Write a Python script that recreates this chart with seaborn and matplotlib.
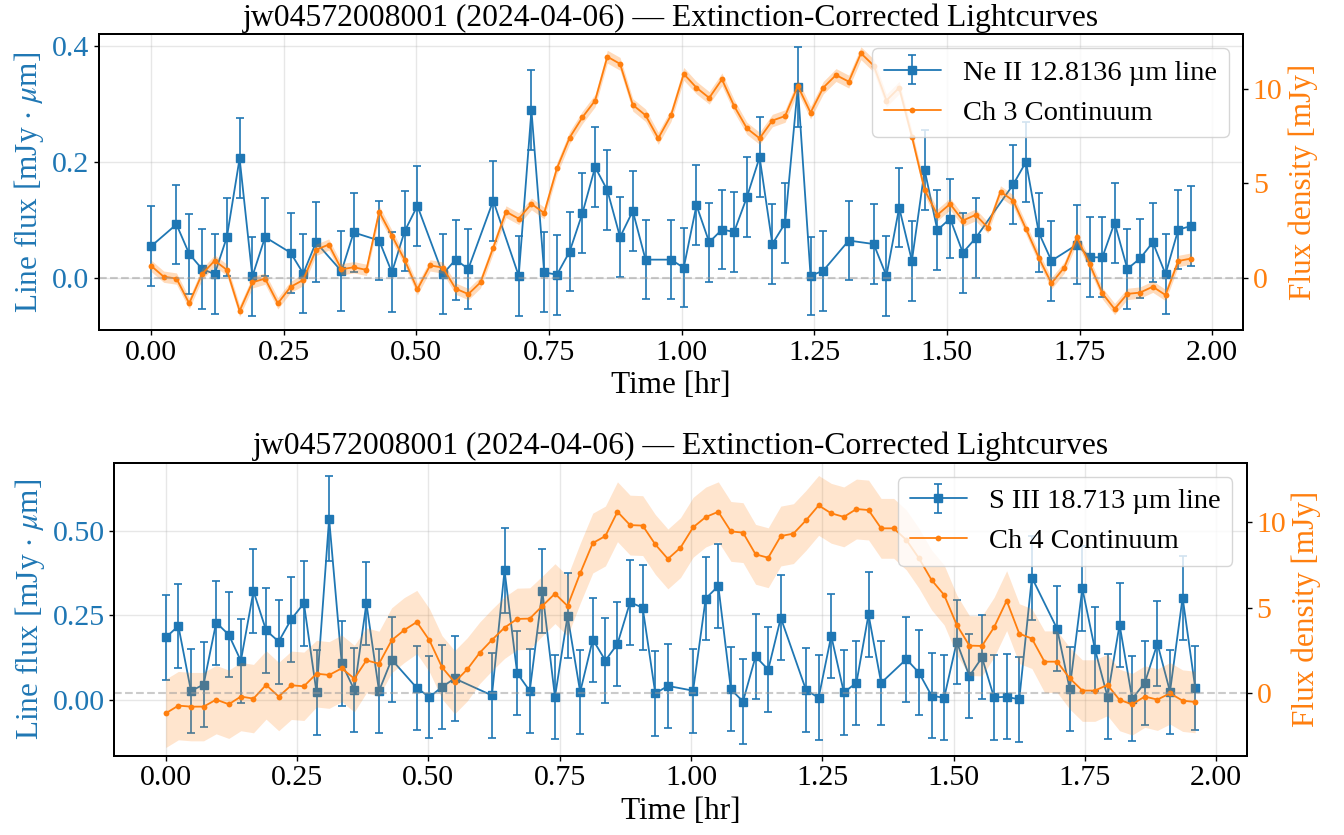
import matplotlib
matplotlib.use("Agg")
import matplotlib.pyplot as plt
from matplotlib.ticker import MultipleLocator, FormatStrFormatter
import seaborn as sns

# ---------------- data ----------------
time_hr = [0.000, 0.024, 0.048, 0.072, 0.096, 0.120, 0.143, 0.167, 0.191, 0.215,
           0.239, 0.263, 0.287, 0.311, 0.335, 0.359, 0.382, 0.406, 0.430, 0.454,
           0.478, 0.502, 0.526, 0.550, 0.574, 0.598, 0.621, 0.645, 0.669, 0.693,
           0.717, 0.741, 0.765, 0.789, 0.813, 0.837, 0.860, 0.884, 0.908, 0.932,
           0.956, 0.980, 1.004, 1.028, 1.052, 1.076, 1.099, 1.123, 1.147, 1.171,
           1.195, 1.219, 1.243, 1.267, 1.291, 1.315, 1.338, 1.362, 1.386, 1.410,
           1.434, 1.458, 1.482, 1.506, 1.530, 1.554, 1.577, 1.601, 1.625, 1.649,
           1.673, 1.697, 1.721, 1.745, 1.769, 1.793, 1.816, 1.840, 1.864, 1.888,
           1.912, 1.936, 1.960]

# Panel 1: Ne II line (indices into time_hr where the line was measured)
ne_idx = [0, 2, 3, 4, 5, 6, 7, 8, 9, 11, 12, 13, 15, 16, 18, 19, 20, 21, 23, 24,
          25, 27, 29, 30, 31, 32, 33, 34, 35, 36, 37, 38, 39, 41, 42, 43, 44, 45, 46, 47,
          48, 49, 50, 51, 52, 53, 55, 57, 58, 59, 60, 61, 62, 63, 64, 65, 68, 69, 70, 71,
          73, 74, 75, 76, 77, 78, 79, 80, 81, 82]
ne_flux = [0.054, 0.092, 0.041, 0.015, 0.006, 0.070, 0.206, 0.002, 0.070, 0.043,
           0.007, 0.061, 0.011, 0.078, 0.064, 0.009, 0.080, 0.124, 0.006, 0.031,
           0.015, 0.133, 0.003, 0.289, 0.009, 0.005, 0.045, 0.111, 0.191, 0.151,
           0.070, 0.115, 0.031, 0.031, 0.017, 0.125, 0.061, 0.083, 0.079, 0.139,
           0.208, 0.058, 0.094, 0.330, 0.003, 0.012, 0.064, 0.058, 0.003, 0.121,
           0.029, 0.186, 0.082, 0.102, 0.043, 0.068, 0.161, 0.200, 0.078, 0.029,
           0.057, 0.035, 0.035, 0.095, 0.015, 0.033, 0.061, 0.006, 0.083, 0.089]
ne_err = [0.069, 0.068, 0.069, 0.069, 0.069, 0.068, 0.069, 0.069, 0.068, 0.069,
          0.069, 0.069, 0.069, 0.069, 0.068, 0.069, 0.069, 0.069, 0.069, 0.069,
          0.069, 0.069, 0.069, 0.069, 0.069, 0.069, 0.069, 0.069, 0.069, 0.069,
          0.069, 0.069, 0.068, 0.068, 0.068, 0.069, 0.068, 0.068, 0.069, 0.069,
          0.069, 0.069, 0.069, 0.069, 0.068, 0.069, 0.068, 0.069, 0.069, 0.068,
          0.069, 0.069, 0.069, 0.069, 0.069, 0.069, 0.069, 0.069, 0.069, 0.069,
          0.068, 0.069, 0.069, 0.069, 0.069, 0.069, 0.068, 0.069, 0.069, 0.069]
ch3_flux = [0.63, 0.05, -0.05, -1.36, 0.18, 0.90, 0.41, -1.76, -0.25, -0.05,
            -1.36, -0.49, -0.12, 1.47, 1.75, 0.44, 0.55, 0.41, 3.49, 2.22,
            0.94, -0.62, 0.65, 0.53, -0.58, -0.87, -0.25, 1.59, 3.49, 3.12,
            3.90, 3.42, 5.78, 7.41, 8.48, 9.37, 11.69, 11.31, 9.14, 8.59,
            7.37, 8.59, 10.78, 10.05, 9.51, 10.49, 9.08, 7.90, 7.37, 8.31,
            8.55, 10.14, 8.73, 10.05, 10.72, 10.37, 11.87, 11.22, 9.37, 10.05,
            7.46, 4.64, 3.32, 3.90, 3.02, 3.32, 2.65, 4.55, 4.07, 2.58,
            1.06, -0.30, 0.53, 2.13, 0.71, -0.83, -1.66, -0.86, -0.79, -0.48,
            -0.92, 0.88, 1.01]
ch3_err = [0.30, 0.30, 0.30, 0.30, 0.30, 0.30, 0.30, 0.30, 0.30, 0.30,
           0.30, 0.30, 0.30, 0.30, 0.30, 0.30, 0.30, 0.30, 0.31, 0.30,
           0.30, 0.30, 0.30, 0.30, 0.30, 0.30, 0.30, 0.30, 0.31, 0.31,
           0.31, 0.31, 0.32, 0.32, 0.33, 0.33, 0.34, 0.34, 0.33, 0.33,
           0.32, 0.33, 0.34, 0.33, 0.33, 0.34, 0.33, 0.32, 0.32, 0.33,
           0.33, 0.34, 0.33, 0.33, 0.34, 0.34, 0.34, 0.34, 0.33, 0.33,
           0.32, 0.31, 0.31, 0.31, 0.31, 0.31, 0.30, 0.31, 0.31, 0.30,
           0.30, 0.30, 0.30, 0.30, 0.30, 0.30, 0.30, 0.30, 0.30, 0.30,
           0.30, 0.30, 0.30]

# Panel 2: S III line
s_idx = [0, 1, 2, 3, 4, 5, 6, 7, 8, 9, 10, 11, 12, 13, 14, 15, 16, 17, 18, 20,
         21, 22, 23, 26, 27, 28, 29, 30, 31, 32, 33, 34, 35, 36, 37, 38, 39, 40, 42, 43,
         44, 45, 46, 47, 48, 49, 51, 52, 53, 54, 55, 56, 57, 59, 60, 61, 62, 63, 64, 65,
         66, 67, 68, 69, 71, 72, 73, 74, 75, 76, 77, 78, 79, 80, 81, 82]
s_flux = [0.185, 0.219, 0.027, 0.046, 0.229, 0.193, 0.116, 0.322, 0.206, 0.173,
          0.239, 0.286, 0.023, 0.536, 0.109, 0.030, 0.286, 0.027, 0.120, 0.036,
          0.009, 0.039, 0.064, 0.014, 0.383, 0.080, 0.027, 0.322, 0.009, 0.249,
          0.024, 0.179, 0.117, 0.166, 0.289, 0.273, 0.020, 0.042, 0.028, 0.300,
          0.337, 0.032, -0.004, 0.129, 0.090, 0.243, 0.030, 0.007, 0.190, 0.023,
          0.051, 0.253, 0.051, 0.121, 0.081, 0.013, 0.007, 0.172, 0.071, 0.126,
          0.008, 0.010, 0.002, 0.362, 0.211, 0.033, 0.330, 0.151, 0.010, 0.223,
          0.004, 0.051, 0.167, 0.025, 0.303, 0.036]
s_err = [0.125, 0.125, 0.125, 0.125, 0.124, 0.125, 0.125, 0.125, 0.125, 0.124,
         0.125, 0.125, 0.125, 0.125, 0.125, 0.124, 0.123, 0.125, 0.124, 0.124,
         0.122, 0.124, 0.125, 0.125, 0.125, 0.123, 0.125, 0.125, 0.125, 0.125,
         0.125, 0.124, 0.125, 0.125, 0.125, 0.125, 0.125, 0.124, 0.124, 0.123,
         0.125, 0.124, 0.125, 0.125, 0.125, 0.125, 0.124, 0.125, 0.124, 0.125,
         0.125, 0.125, 0.124, 0.125, 0.125, 0.125, 0.125, 0.125, 0.124, 0.124,
         0.125, 0.125, 0.125, 0.124, 0.125, 0.125, 0.125, 0.125, 0.125, 0.124,
         0.125, 0.125, 0.125, 0.124, 0.124, 0.125]
ch4_flux = [-1.17, -0.72, -0.78, -0.78, -0.37, -0.64, -0.19, -0.31, 0.49, -0.19,
            0.47, 0.41, 1.15, 1.07, 1.46, 0.86, 1.93, 1.73, 3.10, 3.70,
            4.17, 3.10, 1.52, 0.65, 1.40, 2.38, 3.12, 3.84, 4.35, 4.37,
            5.11, 5.83, 5.11, 7.02, 8.79, 9.20, 10.62, 9.84, 9.81, 8.71,
            7.86, 8.52, 9.71, 10.31, 10.62, 9.47, 9.40, 8.13, 7.93, 9.20,
            9.34, 10.12, 10.99, 10.53, 10.32, 10.78, 10.72, 9.65, 9.65, 8.97,
            7.90, 6.63, 5.75, 4.00, 2.79, 2.77, 3.86, 5.42, 3.49, 3.20,
            1.85, 1.85, 0.88, 0.16, 0.16, 0.49, -0.39, -0.64, -0.19, -0.37,
            0.00, -0.43, -0.51]
ch4_err = [2.00, 2.00, 2.00, 2.00, 2.00, 2.00, 2.00, 2.00, 2.00, 2.00,
           2.00, 2.00, 1.95, 1.95, 1.95, 1.95, 1.90, 1.90, 1.90, 1.90,
           1.85, 1.85, 1.85, 1.85, 1.85, 1.80, 1.80, 1.80, 1.80, 1.80,
           1.75, 1.75, 1.75, 1.75, 1.75, 1.75, 1.75, 1.75, 1.75, 1.75,
           1.75, 1.75, 1.75, 1.75, 1.75, 1.75, 1.75, 1.75, 1.75, 1.75,
           1.75, 1.75, 1.75, 1.75, 1.75, 1.75, 1.75, 1.75, 1.75, 1.75,
           1.75, 1.75, 1.75, 1.75, 1.75, 1.75, 1.75, 1.75, 1.75, 1.75,
           1.80, 1.80, 1.80, 1.80, 1.80, 1.80, 1.80, 1.80, 1.80, 1.80,
           1.80, 1.80, 1.80]

title = "jw04572008001 (2024-04-06) \u2014 Extinction-Corrected Lightcurves"
ne_label = "Ne II 12.8136 \u00b5m line"
ch3_label = "Ch 3 Continuum"
s_label = "S III 18.713 \u00b5m line"
ch4_label = "Ch 4 Continuum"

# ---------------- style ----------------
sns.set_style("ticks")
plt.rcParams.update({
    "font.family": ["Liberation Serif", "DejaVu Serif"],
    "mathtext.fontset": "stix",
    "font.size": 20,
    "axes.titlesize": 22.8,
    "axes.labelsize": 22.5,
    "xtick.labelsize": 21.5,
    "ytick.labelsize": 21.5,
    "legend.fontsize": 20.5,
    "text.color": "black",
    "axes.labelcolor": "black",
    "axes.edgecolor": "black",
    "axes.linewidth": 1.4,
    "xtick.color": "black",
    "ytick.color": "black",
    "xtick.major.size": 3.5,
    "ytick.major.size": 3.5,
    "xtick.major.width": 1.0,
    "ytick.major.width": 1.0,
})

BLUE = "#1f77b4"
ORANGE = "#ff7f0e"

fig = plt.figure(figsize=(13.44, 8.35), dpi=100)
ax_top = fig.add_axes([0.07366, 0.60479, 0.85119, 0.35449])
ax_bot = fig.add_axes([0.08504, 0.09497, 0.84256, 0.35090])


def panel(ax, idx, flux, err, cont, cont_err, lab_line, lab_cont, ylim1, ylim2,
          band_alpha, ytick_step, yfmt):
    t_line = [time_hr[i] for i in idx]
    eb = ax.errorbar(t_line, flux, yerr=err, fmt="-s", color=BLUE, ms=5.5,
                     lw=1.3, elinewidth=1.2, capsize=2.6, capthick=1.2,
                     label=lab_line, zorder=3)
    ax.set_xlabel("Time [hr]")
    ax.set_ylabel("Line flux [mJy $\\cdot$ $\\mu$m]", color=BLUE)
    ax.tick_params(axis="y", labelcolor=BLUE)
    ax.yaxis.set_major_locator(MultipleLocator(ytick_step))
    ax.yaxis.set_major_formatter(FormatStrFormatter(yfmt))
    ax.grid(True, color="#b0b0b0", alpha=0.3, lw=1.0)
    ax.set_ylim(*ylim1)

    ax2 = ax.twinx()
    lo = [c - e for c, e in zip(cont, cont_err)]
    hi = [c + e for c, e in zip(cont, cont_err)]
    ax2.fill_between(time_hr, lo, hi, color=ORANGE, alpha=band_alpha, lw=0)
    sns.lineplot(x=time_hr, y=cont, ax=ax2, color=ORANGE, marker="o",
                 markersize=4.2, markeredgewidth=0, lw=1.3, legend=False)
    ax2.axhline(0, color="#999999", ls="--", lw=1.5, alpha=0.5)
    ax2.set_ylabel("Flux density [mJy]", color=ORANGE)
    ax2.tick_params(axis="y", labelcolor=ORANGE)
    ax2.set_ylim(*ylim2)
    ax.set_xlim(-0.098, 2.058)
    ax.set_title(title)
    cont_line = ax2.lines[0]
    ax2.legend([eb, cont_line], [lab_line, lab_cont], loc="upper right")
    return ax2


panel(ax_top, ne_idx, ne_flux, ne_err, ch3_flux, ch3_err, ne_label, ch3_label,
      (-0.0906, 0.421), (-2.77, 12.89), 0.28, 0.2, "%.1f")
panel(ax_bot, s_idx, s_flux, s_err, ch4_flux, ch4_err, s_label, ch4_label,
      (-0.164, 0.701), (-3.65, 13.49), 0.2, 0.25, "%.2f")

fig.savefig("out.png", dpi=100)
